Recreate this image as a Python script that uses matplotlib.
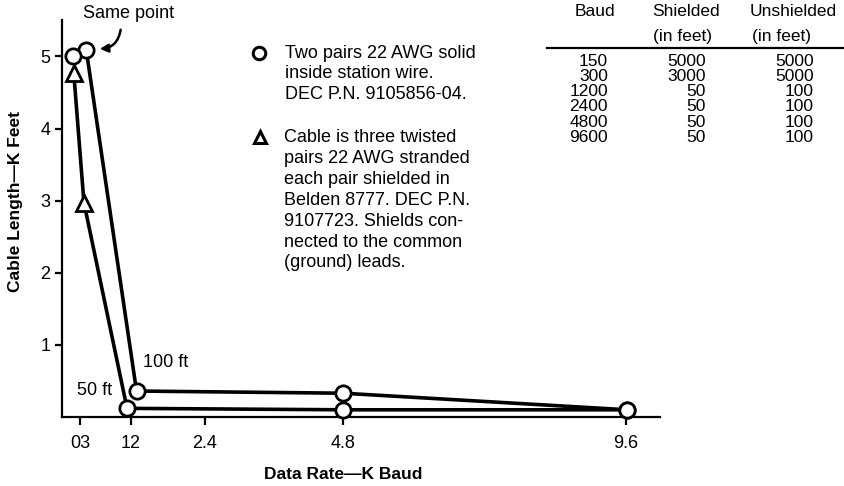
import numpy as np
import matplotlib
matplotlib.use("Agg")
import matplotlib.pyplot as plt
from matplotlib.lines import Line2D

plt.rcParams['font.family'] = ['Liberation Sans', 'DejaVu Sans']

# ---- data -------------------------------------------------------------
# x tick values (K baud) and their labels
x_ticks = [0.3, 1.2, 2.4, 4.8, 9.6]
x_tick_labels = ["03", "12", "2.4", "4.8", "9.6"]
y_ticks = [1, 2, 3, 4, 5]

# unshielded station wire (circles), cable length in K feet
unsh_x = [0.41, 1.29, 4.8, 9.62]
unsh_y = [5.09, 0.36, 0.33, 0.10]

# shielded twisted-pair cable
sh_x = [0.19, 0.37, 1.13, 4.8, 9.62]
sh_y = [4.77, 2.97, 0.12, 0.10, 0.10]

# the lone circle at 150 baud
lone_x = [0.18]
lone_y = [5.0]

# table of maximum lengths
baud = [150, 300, 1200, 2400, 4800, 9600]
shielded_ft = [5000, 3000, 50, 50, 50, 50]
unshielded_ft = [5000, 5000, 100, 100, 100, 100]

legend_circle = ["Two pairs 22 AWG solid", "inside station wire.",
                 "DEC P.N. 9105856-04."]
legend_triangle = ["Cable is three twisted", "pairs 22 AWG stranded",
                   "each pair shielded in", "Belden 8777. DEC P.N.",
                   "9107723. Shields con-", "nected to the common",
                   "(ground) leads."]

# ---- figure -----------------------------------------------------------
W, H = 845, 486
fig = plt.figure(figsize=(W / 100, H / 100), dpi=100)

def fx(px):
    return px / W

def fy(py):
    return 1 - py / H

ax_l, ax_r, ax_t, ax_b = 62, 660, 20, 417
ax = fig.add_axes([fx(ax_l), fy(ax_b), fx(ax_r - ax_l), (ax_b - ax_t) / H])

# piecewise-linear x scale: the tick values are not evenly spaced on the axis
tick_pos = [80, 131, 205, 343, 626]

def _pwl(x, xp, fp):
    x = np.asarray(x, dtype=float)
    y = np.interp(x, xp, fp)
    s0 = (fp[1] - fp[0]) / (xp[1] - xp[0])
    s1 = (fp[-1] - fp[-2]) / (xp[-1] - xp[-2])
    y = np.where(x < xp[0], fp[0] + (x - xp[0]) * s0, y)
    y = np.where(x > xp[-1], fp[-1] + (x - xp[-1]) * s1, y)
    return y

def forward(x):
    return _pwl(x, x_ticks, tick_pos)

def inverse(p):
    return _pwl(p, tick_pos, x_ticks)

ax.set_xscale('function', functions=(forward, inverse))
ax.set_xlim(float(inverse(ax_l)), float(inverse(ax_r)))
ax.set_ylim(0, (415 - ax_t) / 71.75)

lw = 2.6
ms = 11
mew = 2.0
ax.plot(unsh_x, unsh_y, color='black', lw=lw, marker='o', ms=ms,
        mfc='white', mec='black', mew=mew, clip_on=False, zorder=3)
ax.plot(sh_x, sh_y, color='black', lw=lw, clip_on=False, zorder=3)
ax.plot(sh_x[:2], sh_y[:2], ls='none', marker='^', ms=ms, mfc='white',
        mec='black', mew=mew, clip_on=False, zorder=4)
ax.plot(sh_x[2:], sh_y[2:], ls='none', marker='o', ms=ms, mfc='white',
        mec='black', mew=mew, clip_on=False, zorder=4)
ax.plot(lone_x, lone_y, ls='none', marker='o', ms=ms, mfc='white',
        mec='black', mew=mew, clip_on=False, zorder=5)

for side in ('top', 'right'):
    ax.spines[side].set_visible(False)
for side in ('left', 'bottom'):
    ax.spines[side].set_linewidth(1.6)

ax.set_xticks(x_ticks)
ax.set_xticklabels(x_tick_labels)
ax.xaxis.set_minor_locator(matplotlib.ticker.NullLocator())
ax.set_yticks(y_ticks)
ax.tick_params(axis='x', direction='out', length=6, width=1.6, pad=7,
               labelsize=13)
ax.tick_params(axis='y', direction='out', length=5, width=1.6, pad=3.5,
               labelsize=13)

# axis titles
fig.text(fx(343), fy(474), "Data Rate\u2014K Baud", ha='center', va='center',
         fontsize=12.5, fontweight='bold')
fig.text(fx(16), fy(202), "Cable Length\u2014K Feet", ha='center',
         va='center', rotation=90, fontsize=12.5, fontweight='bold')

# annotations on the plot
fig.text(fx(83), fy(14), "Same point", ha='left', va='center', fontsize=13)
ax.annotate("", xy=(fx(97), fy(49)), xycoords='figure fraction',
            xytext=(fx(121), fy(27)), textcoords='figure fraction',
            arrowprops=dict(arrowstyle='-|>', color='black', lw=1.8,
                            mutation_scale=12,
                            connectionstyle='arc3,rad=-0.45'))
fig.text(fx(143), fy(362), "100 ft", ha='left', va='center', fontsize=13)
fig.text(fx(77), fy(390), "50 ft", ha='left', va='center', fontsize=13)

# legend block
fig.add_artist(Line2D([fx(259)], [fy(53)], transform=fig.transFigure,
                      marker='o', ms=9, mfc='white', mec='black', mew=2.2))
fig.add_artist(Line2D([fx(260)], [fy(137)], transform=fig.transFigure,
                      marker='^', ms=9, mfc='white', mec='black', mew=2.2))
for i, line in enumerate(legend_circle):
    fig.text(fx(285), fy(53 + i * 20.8), line, ha='left', va='center',
             fontsize=13)
for i, line in enumerate(legend_triangle):
    fig.text(fx(284), fy(138 + i * 20.8), line, ha='left', va='center',
             fontsize=13)

# table
fig.text(fx(595), fy(12), "Baud", ha='center', va='center', fontsize=12.5)
fig.text(fx(652), fy(12), "Shielded", ha='left', va='center', fontsize=12.5)
fig.text(fx(653), fy(37), "(in feet)", ha='left', va='center', fontsize=12.5)
fig.text(fx(750), fy(12), "Unshielded", ha='left', va='center', fontsize=12.5)
fig.text(fx(752), fy(37), "(in feet)", ha='left', va='center', fontsize=12.5)
fig.add_artist(Line2D([fx(547), fx(845)], [fy(48), fy(48)],
                      transform=fig.transFigure, color='black', lw=1.6))
for i, (b, s, u) in enumerate(zip(baud, shielded_ft, unshielded_ft)):
    yy = fy(61 + i * 15.3)
    fig.text(fx(608), yy, str(b), ha='right', va='center', fontsize=12.5)
    fig.text(fx(706), yy, str(s), ha='right', va='center', fontsize=12.5)
    fig.text(fx(814), yy, str(u), ha='right', va='center', fontsize=12.5)

fig.savefig("out.png", dpi=100)
